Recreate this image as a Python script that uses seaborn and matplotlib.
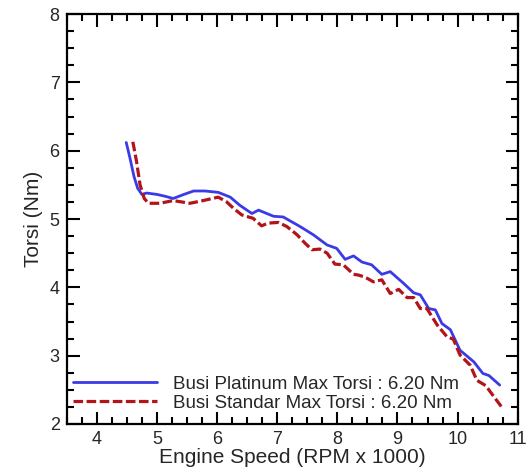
import matplotlib
matplotlib.use("Agg")
import matplotlib.pyplot as plt
import seaborn as sns
import pandas as pd
from matplotlib.ticker import MultipleLocator

# Data
platinum_rpm = [4.49, 4.55, 4.62, 4.68, 4.75, 4.83, 5.00, 5.15, 5.27, 5.45, 5.61, 5.80, 6.02, 6.22,
                6.38, 6.58, 6.69, 6.94, 7.10, 7.38, 7.60, 7.83, 7.99, 8.13, 8.27, 8.41, 8.57,
                8.74, 8.88, 9.10, 9.27, 9.38, 9.52, 9.63, 9.74, 9.88, 10.04, 10.27, 10.42,
                10.52, 10.70]
platinum_torsi = [6.12, 5.90, 5.62, 5.45, 5.36, 5.38, 5.36, 5.33, 5.30, 5.36, 5.41, 5.41, 5.39, 5.32,
                  5.20, 5.08, 5.13, 5.04, 5.03, 4.89, 4.77, 4.62, 4.57, 4.41, 4.46, 4.37, 4.33,
                  4.19, 4.23, 4.06, 3.92, 3.89, 3.69, 3.67, 3.47, 3.38, 3.08, 2.91, 2.74,
                  2.71, 2.57]

standar_rpm = [4.60, 4.66, 4.72, 4.79, 4.86, 5.05, 5.27, 5.55, 5.77, 6.02, 6.16, 6.27, 6.41,
               6.60, 6.74, 6.85, 7.02, 7.16, 7.33, 7.47, 7.58, 7.71, 7.83, 7.96, 8.10, 8.27,
               8.35, 8.46, 8.60, 8.74, 8.88, 9.02, 9.16, 9.27, 9.38, 9.49, 9.66, 9.82, 9.93,
               10.04, 10.21, 10.32, 10.47, 10.57, 10.74]
standar_torsi = [6.13, 5.85, 5.50, 5.30, 5.23, 5.23, 5.27, 5.23, 5.27, 5.32, 5.25, 5.16, 5.06,
                 5.01, 4.90, 4.94, 4.95, 4.89, 4.77, 4.64, 4.55, 4.56, 4.50, 4.34, 4.33, 4.19,
                 4.18, 4.15, 4.08, 4.11, 3.91, 3.97, 3.85, 3.85, 3.69, 3.69, 3.45, 3.28, 3.24,
                 3.01, 2.86, 2.64, 2.56, 2.44, 2.24]

series_labels = ["Busi Platinum Max Torsi : 6.20 Nm", "Busi Standar Max Torsi : 6.20 Nm"]
x_ticks = [4, 5, 6, 7, 8, 9, 10, 11]
y_ticks = [2, 3, 4, 5, 6, 7, 8]

sns.set_style("white")
plt.rcParams['font.family'] = ['Liberation Sans', 'DejaVu Sans']

fig = plt.figure(figsize=(5.31, 4.72), dpi=100)
ax = fig.add_axes([0.1256, 0.1017, 0.975 - 0.1256, 0.9703 - 0.1017])

df1 = pd.DataFrame({"rpm": platinum_rpm, "torsi": platinum_torsi})
df2 = pd.DataFrame({"rpm": standar_rpm, "torsi": standar_torsi})

sns.lineplot(data=df1, x="rpm", y="torsi", ax=ax, color="#3a3ae6", linewidth=2.0,
             sort=False, label=series_labels[0])
sns.lineplot(data=df2, x="rpm", y="torsi", ax=ax, color="#b3141a", linewidth=2.3,
             sort=False, label=series_labels[1], linestyle=(0, (3.0, 1.1)))

ax.set_xlim(3.5, 11)
ax.set_ylim(2, 8)
ax.set_xticks(x_ticks)
ax.set_yticks(y_ticks)
ax.xaxis.set_minor_locator(MultipleLocator(0.25))
ax.yaxis.set_minor_locator(MultipleLocator(0.25))
ax.tick_params(which="both", direction="in", top=True, right=True, bottom=True, left=True,
               color="black", width=1.5, labelsize=13, pad=5)
ax.tick_params(which="major", length=9)
ax.tick_params(which="minor", length=5)
for s in ax.spines.values():
    s.set_color("black")
    s.set_linewidth(1.6)

ax.set_xlabel("Engine Speed (RPM x 1000)", fontsize=15, labelpad=0)
ax.set_ylabel("Torsi (Nm)", fontsize=15, labelpad=5)

leg = ax.legend(loc="lower left", frameon=False, fontsize=13.5, handlelength=4.5,
                handletextpad=0.85, labelspacing=0.1, borderaxespad=0, borderpad=0,
                bbox_to_anchor=(0.014, 0.030))

fig.savefig("out.png", dpi=100)
